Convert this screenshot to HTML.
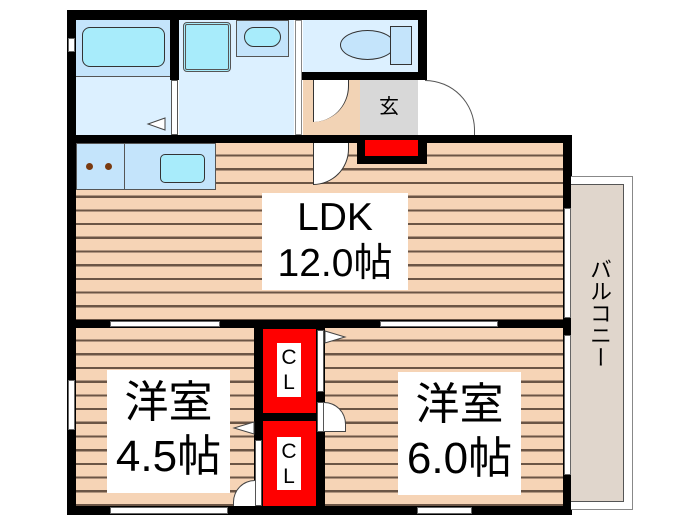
<!DOCTYPE html>
<html><head><meta charset="utf-8"><style>
body{margin:0;width:700px;height:525px;background:#fff;position:relative;overflow:hidden;font-family:"Liberation Sans","Noto Sans CJK JP",sans-serif}
div{position:absolute;box-sizing:border-box}
.b{background:#000}
.fl{background:repeating-linear-gradient(180deg,#f6d4b6 0px,#f6d4b6 11.5px,#6b5545 11.5px,#6b5545 13.7px)}
.lb{background:#fff;text-align:center;color:#000}
.win{background:#fff;border:1px solid #666}
</style></head><body>
<div class="fl" style="left:76px;top:143px;width:487px;height:178px"></div>
<div class="fl" style="left:76px;top:328px;width:180px;height:180px"></div>
<div class="fl" style="left:324px;top:328px;width:239px;height:180px"></div>
<div style="left:76px;top:20px;width:95px;height:115px;background:#dcf0ff"></div>
<div style="left:76px;top:20px;width:95px;height:57px;background:#c4e4fb;border-bottom:1px solid #555"></div>
<div style="left:82px;top:27px;width:83px;height:40px;background:#a8ecfb;border:1.5px solid #333;border-radius:8px"></div>
<div style="left:179px;top:20px;width:115px;height:115px;background:#dcf0ff"></div>
<div style="left:183px;top:22px;width:48px;height:50px;background:#a8ecfb;border:3px double #555;border-radius:4px"></div>
<div style="left:236px;top:20px;width:53px;height:37px;background:#c4e4fb;border:1px solid #555"></div>
<div style="left:244px;top:27px;width:37px;height:20px;background:#a8ecfb;border:1.5px solid #333;border-radius:10px"></div>
<div style="left:303px;top:20px;width:115px;height:52px;background:#dcf0ff"></div>
<div style="left:340px;top:30px;width:55px;height:30px;background:#c4e4fb;border:1.5px solid #333;border-radius:50%"></div>
<div style="left:390px;top:26px;width:22px;height:39px;background:#c4e4fb;border:1.5px solid #333"></div>
<div style="left:303px;top:80px;width:57px;height:55px;background:#f2d3b5"></div>
<div style="left:313px;top:80px;width:36px;height:42px;background:#fff;border-right:1px solid #333;border-bottom-right-radius:36px;border-left:1px solid #333"></div>
<div style="left:360px;top:80px;width:58px;height:55px;background:#d8d8d8;font-size:20px;text-align:center;line-height:55px">玄</div>
<div style="left:425px;top:80px;width:50px;height:55px;border-top:1px solid #555;border-right:1px solid #555;border-top-right-radius:50px"></div>
<div style="left:76px;top:143px;width:140px;height:47px;background:#c4e4fb;border:1px solid #555"></div>
<div style="left:124px;top:143px;width:1px;height:47px;background:#555"></div>
<div style="left:86px;top:163px;width:7px;height:7px;border-radius:50%;background:#7a3a10"></div>
<div style="left:105px;top:163px;width:7px;height:7px;border-radius:50%;background:#7a3a10"></div>
<div style="left:160px;top:154px;width:45px;height:29px;background:#a8ecfb;border:1.5px solid #333;border-radius:5px"></div>
<div style="left:313px;top:143px;width:36px;height:42px;background:#fff;border:1px solid #333;border-top:none;border-bottom-right-radius:36px"></div>
<div class="b" style="left:67px;top:10px;width:360px;height:10px"></div>
<div class="b" style="left:67px;top:10px;width:9px;height:505px"></div>
<div class="b" style="left:418px;top:10px;width:9px;height:70px"></div>
<div class="b" style="left:170px;top:10px;width:9px;height:70px"></div>
<div style="left:171px;top:80px;width:7px;height:55px;background:#fff;border:1px solid #555"></div>
<div style="left:295px;top:20px;width:7px;height:115px;background:#fff;border:1px solid #888"></div>
<div class="b" style="left:302px;top:72px;width:125px;height:8px"></div>
<div class="b" style="left:67px;top:135px;width:290px;height:8px"></div>
<div class="b" style="left:357px;top:135px;width:70px;height:29px"></div>
<div style="left:365px;top:140px;width:53px;height:16px;background:#f00"></div>
<div class="b" style="left:427px;top:135px;width:144px;height:8px"></div>
<div class="b" style="left:563px;top:135px;width:9px;height:380px"></div>
<div style="left:564px;top:208px;width:7px;height:110px;background:#fff;border:1px solid #666"></div>
<div style="left:564px;top:335px;width:7px;height:140px;background:#fff;border:1px solid #666"></div>
<div class="b" style="left:67px;top:320px;width:505px;height:8px"></div>
<div class="win" style="left:110px;top:321px;width:110px;height:6px"></div>
<div class="win" style="left:380px;top:321px;width:118px;height:6px"></div>
<div class="b" style="left:67px;top:506px;width:505px;height:9px"></div>
<div class="win" style="left:110px;top:507px;width:118px;height:7px"></div>
<div class="win" style="left:417px;top:507px;width:55px;height:7px"></div>
<div style="left:68px;top:380px;width:7px;height:50px;background:#fff;border:1px solid #666"></div>
<div style="left:68px;top:38px;width:7px;height:14px;background:#fff;border:1px solid #666"></div>
<div class="b" style="left:254px;top:328px;width:71px;height:180px"></div>
<div style="left:263px;top:329px;width:53px;height:84px;background:#f00"></div>
<div style="left:263px;top:421px;width:53px;height:85px;background:#f00"></div>
<div style="left:277px;top:343px;width:24px;height:54px;background:#fff;font-size:21px;text-align:center;line-height:25px;padding-top:2px">C<br>L</div>
<div style="left:277px;top:437px;width:24px;height:53px;background:#fff;font-size:21px;text-align:center;line-height:25px;padding-top:2px">C<br>L</div>
<div style="left:317px;top:330px;width:7px;height:62px;background:#fff;border:1px solid #555"></div>
<div style="left:317px;top:402px;width:7px;height:30px;background:#fff;border:1px solid #555"></div>
<div style="left:324px;top:402px;width:22px;height:30px;border-top:1px solid #444;border-right:1px solid #444;border-top-right-radius:25px;background:#fff;border-bottom:1px solid #444"></div>
<div style="left:255px;top:440px;width:7px;height:66px;background:#fff;border:1px solid #555"></div>
<div style="left:233px;top:480px;width:22px;height:26px;border-top:1px solid #444;border-left:1px solid #444;border-top-left-radius:25px;background:#fff"></div>
<svg style="position:absolute;left:0;top:0" width="700" height="525">
<polygon points="165,118 148,124 165,130" fill="#fff" stroke="#444"/>
<polygon points="325,331 345,337 325,343" fill="#fff" stroke="#444"/>
<polygon points="254,422 234,428 254,434" fill="#fff" stroke="#444"/>
</svg>
<div class="lb" style="left:262px;top:193px;width:146px;height:97px;font-size:39px;line-height:46px;padding-top:2px">LDK<br>12.0帖</div>
<div class="lb" style="left:107px;top:370px;width:123px;height:123px;font-size:44px;line-height:54px;padding-top:6px">洋室<br>4.5帖</div>
<div class="lb" style="left:398px;top:372px;width:123px;height:123px;font-size:44px;line-height:54px;padding-top:6px">洋室<br>6.0帖</div>
<div style="left:571px;top:176px;width:62px;height:334px;border:1px solid #888;border-left:none;background:#fff"></div>
<div style="left:571px;top:184px;width:53px;height:318px;background:#e0d6cc;border:1px solid #555;border-left:none"></div>
<div style="left:588px;top:258px;width:24px;font-size:22px;line-height:26px;text-align:center;writing-mode:vertical-rl">バルコニー</div>
</body></html>
